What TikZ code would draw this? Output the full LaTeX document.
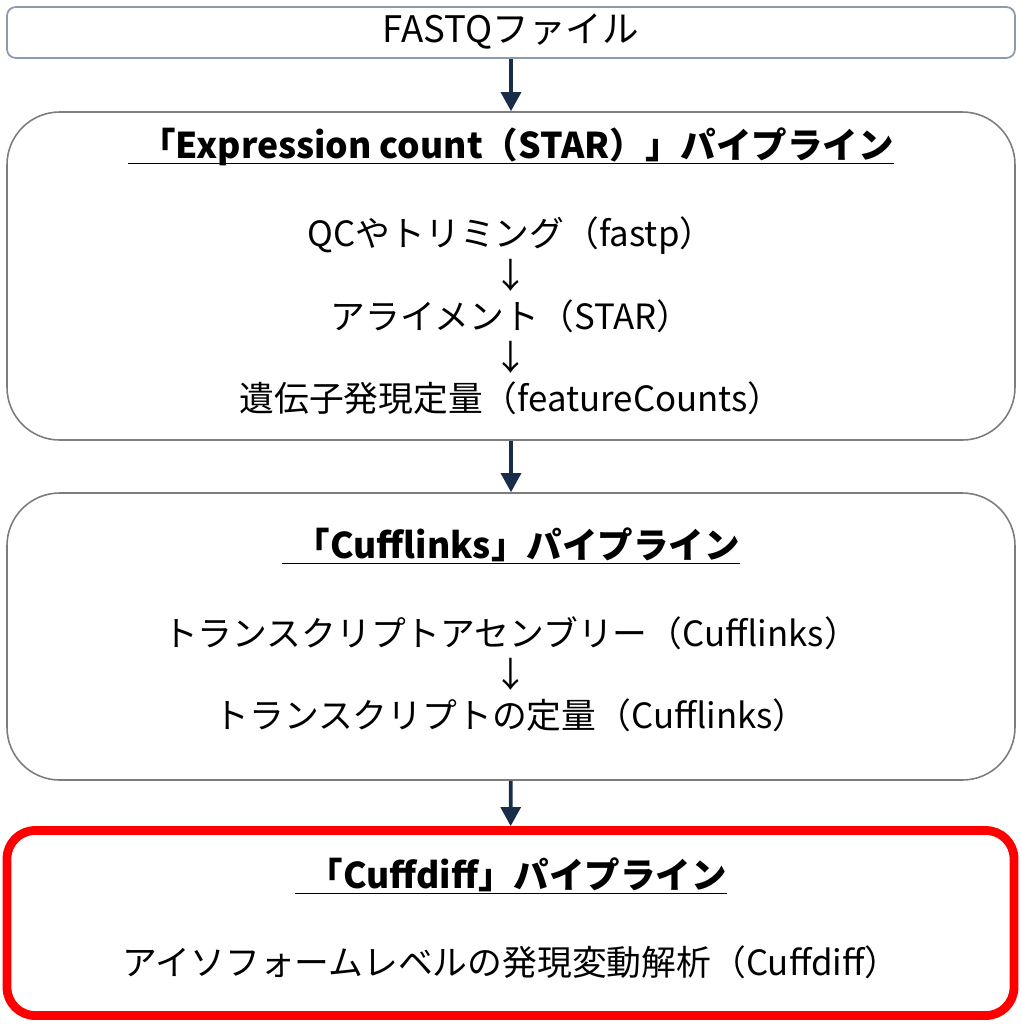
\documentclass[tikz,border=0pt]{standalone}
\usepackage{fontspec}
\usepackage{amsmath}
\setmainfont{Noto Sans CJK JP}
\definecolor{flownavy}{RGB}{24, 45, 72}
\definecolor{boxgrey}{RGB}{125, 125, 125}
\definecolor{topgrey}{RGB}{140, 155, 170}
\definecolor{alertred}{RGB}{255, 0, 0}
\usetikzlibrary{arrows.meta, positioning}

\newcommand{\pipetitle}[1]{\underline{\kern3.5pt\smash[b]{#1}}}

\tikzset{
  stage/.style={draw=boxgrey, line width=0.45pt, rounded corners=15pt, minimum width=10.08cm, inner sep=0pt},
  title/.style={font=\fontsize{10.1pt}{12pt}\selectfont\bfseries, align=center},
  body/.style={font=\fontsize{9.9pt}{11.7pt}\selectfont, align=center},
  flow/.style={-{Triangle[width=5.6pt,length=5.4pt]}, line width=1.1pt, draw=flownavy}
}

\begin{document}
\begin{tikzpicture}
  \useasboundingbox (0,0) rectangle (10.21,-10.24);

  % Input file
  \node[draw=topgrey, line width=0.5pt, rounded corners=2.5pt, minimum width=10.08cm, minimum height=0.51cm] (fastq) at (5.11,-0.325) {};
  \node[body, font=\fontsize{10.4pt}{12pt}\selectfont] (fastqtext) at (5.11,-0.32) {FASTQファイル};

  % Three pipelines
  \node[stage, minimum height=3.28cm] (star) at (5.11,-2.76) {};
  \node[title] (startitle) at (5.11,-1.47) {\pipetitle{「Expression count（STAR）」パイプライン}};
  \node[body] (starbody) at (5.11,-3.16) {
    QCやトリミング（fastp）\\ ↓\\ アライメント（STAR）\\ ↓\\ 遺伝子発現定量（featureCounts）
  };

  \node[stage, minimum height=2.87cm] (links) at (5.11,-6.365) {};
  \node[title] (linkstitle) at (5.11,-5.47) {\pipetitle{「Cufflinks」パイプライン}};
  \node[body] (linksbody) at (5.11,-6.74) {
    トランスクリプトアセンブリー（Cufflinks）\\ ↓\\ トランスクリプトの定量（Cufflinks）
  };

  \node[stage, draw=alertred, line width=2.5pt, rounded corners=8pt, minimum width=10.07cm, minimum height=1.85cm] (diff) at (5.105,-9.23) {};
  \node[title] (difftitle) at (5.11,-8.77) {\pipetitle{「Cuffdiff」パイプライン}};
  \node[body] (diffbody) at (5.11,-9.62) {アイソフォームレベルの発現変動解析（Cuffdiff）};

  % Connectors
  \draw[flow] (fastq) -- (star);
  \draw[flow] (star) -- (links);
  \draw[flow] (links) -- (diff);
\end{tikzpicture}
\end{document}
